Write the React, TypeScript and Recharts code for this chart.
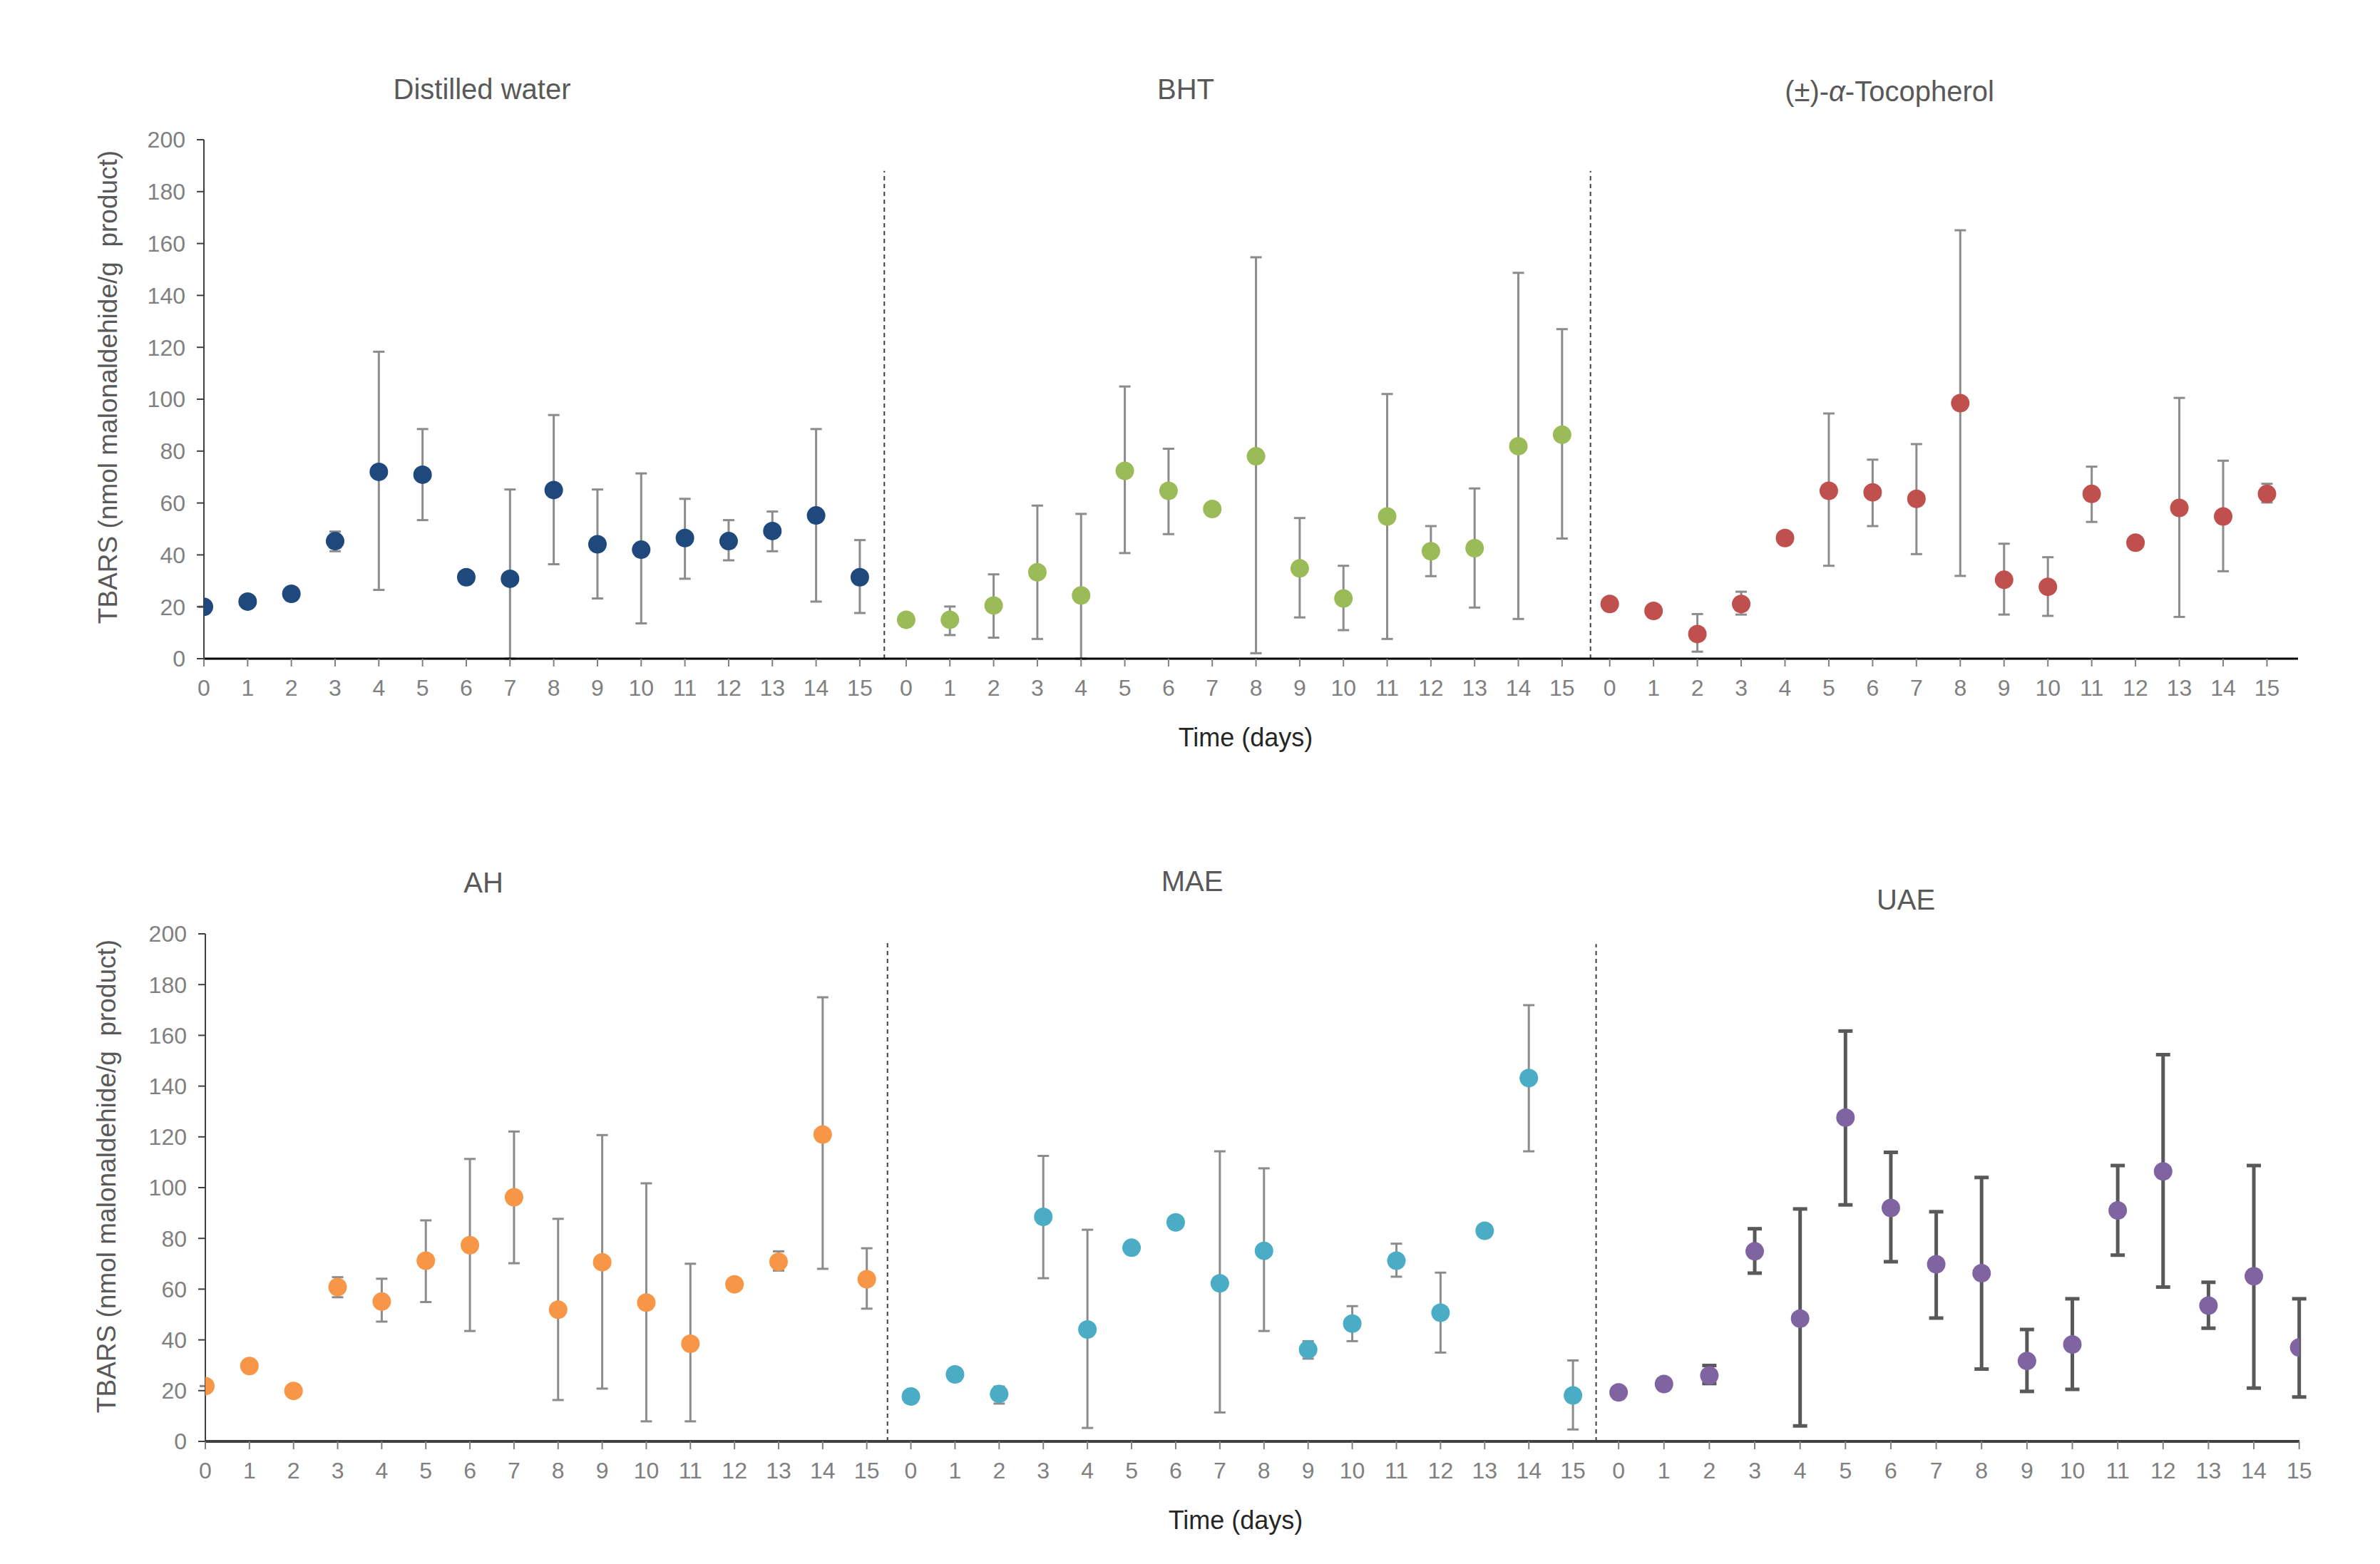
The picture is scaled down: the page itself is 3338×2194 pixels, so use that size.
import { ScatterChart, Scatter, XAxis, YAxis, ErrorBar, ReferenceLine } from "recharts";

const DAYS = ["0", "1", "2", "3", "4", "5", "6", "7", "8", "9", "10", "11", "12", "13", "14", "15"];
const Y_TICKS = [0, 20, 40, 60, 80, 100, 120, 140, 160, 180, 200];

// mean TBARS and the top / bottom of each error bar
const waterMean = [20, 22, 25, 45.3, 72, 70.9, 31.4, 30.8, 65, 44.1, 42, 46.5, 45.3, 49.2, 55.2, 31.4];
const waterHigh = [20, 22, 25, 49, 118.3, 88.5, 31.4, 65.2, 93.9, 65.2, 71.4, 61.6, 53.4, 56.7, 88.5, 45.7];
const waterLow = [20, 22, 25, 41.4, 26.5, 53.4, 31.4, 0, 36.4, 23.2, 13.6, 30.8, 37.9, 41.4, 22, 17.6];

const bhtMean = [15, 15, 20.5, 33.3, 24.4, 72.4, 64.7, 57.7, 78, 34.8, 23.2, 54.8, 41.4, 42.6, 81.9, 86.3];
const bhtHigh = [15, 20.1, 32.5, 59, 55.8, 104.9, 80.9, 59, 154.7, 54.2, 35.8, 102, 51.1, 65.6, 148.7, 127];
const bhtLow = [15, 9.1, 8.1, 7.6, 0, 40.7, 48, 56.5, 2.1, 15.9, 11, 7.6, 31.8, 19.7, 15.3, 46.3];

const tocMean = [21.1, 18.4, 9.5, 21.1, 46.5, 64.7, 64.1, 61.6, 98.5, 30.4, 27.7, 63.5, 44.7, 58.1, 54.8, 63.5];
const tocHigh = [21.1, 18.4, 17.2, 25.8, 46.5, 94.5, 76.7, 82.7, 165.1, 44.3, 39.1, 74, 44.7, 100.5, 76.3, 67.4];
const tocLow = [21.1, 18.4, 2.7, 17, 46.5, 35.8, 51.1, 40.3, 31.9, 17, 16.5, 52.7, 44.7, 16.1, 33.7, 60.2];

const ahMean = [21.8, 29.7, 19.9, 60.8, 55.1, 71.2, 77.3, 96.2, 51.9, 70.6, 54.7, 38.5, 61.9, 70.8, 120.9, 63.9];
const ahHigh = [21.8, 29.7, 19.9, 64.7, 64.1, 87.1, 111.3, 122.1, 87.7, 120.7, 101.7, 70, 61.9, 74.9, 175, 76.1];
const ahLow = [21.8, 29.7, 19.9, 56.8, 47.2, 54.9, 43.5, 70.2, 16.3, 20.8, 7.9, 7.9, 61.9, 67.3, 68, 52.3];

const maeMean = [17.7, 26.4, 18.7, 88.5, 44.1, 76.3, 86.3, 62.3, 75.1, 36.2, 46.4, 71.2, 50.7, 83, 143.2, 18.1];
const maeHigh = [17.7, 26.4, 21.6, 112.5, 83.4, 76.3, 86.3, 114.3, 107.6, 39.5, 53.3, 77.9, 66.5, 83, 171.9, 31.9];
const maeLow = [17.7, 26.4, 14.9, 64.3, 5.3, 76.3, 86.3, 11.4, 43.5, 32.6, 39.5, 64.9, 35, 83, 114.3, 4.7];

const uaeMean = [19.3, 22.6, 26, 74.9, 48.4, 127.6, 92, 69.8, 66.3, 31.7, 38.2, 91, 106.4, 53.5, 65.1, 37];
const uaeHigh = [19.3, 22.6, 29.9, 83.8, 91.6, 161.7, 113.9, 90.5, 104, 44.1, 56.2, 108.7, 152.4, 62.7, 108.7, 56.2];
const uaeLow = [19.3, 22.6, 22.8, 66.3, 6.1, 93.2, 70.8, 48.6, 28.5, 19.7, 20.5, 73.4, 60.8, 44.6, 21, 17.5];

const FONT = '"Liberation Sans", Arial, sans-serif';

// each sub-panel sits at its own offset along the shared x axis (the source was pasted together)
function build(mean: number[], high: number[], low: number[], offset: number, step: number) {
  return mean.map((v, i) => ({ x: offset + i * step, y: v, err: [v - low[i], high[i] - v] }));
}

function tickPositions(groups: { offset: number; step: number }[]) {
  const out: number[] = [];
  groups.forEach((g) => DAYS.forEach((_, i) => out.push(g.offset + i * g.step)));
  return out;
}

function dot(color: string) {
  return (p: any) => <circle cx={p.cx} cy={p.cy} r={13} fill={color} />;
}

function Text({ x, y, children, size = 40, color = "#595959" }: any) {
  return (
    <div
      style={{
        position: "absolute",
        left: x,
        top: y,
        transform: "translate(-50%, -50%)",
        whiteSpace: "pre",
        fontFamily: FONT,
        fontSize: size,
        color,
      }}
    >
      {children}
    </div>
  );
}

function YLabel({ x, y }: any) {
  return (
    <div
      style={{
        position: "absolute",
        left: x,
        top: y,
        transform: "translate(-50%, -50%) rotate(-90deg)",
        whiteSpace: "pre",
        fontFamily: FONT,
        fontSize: 37,
        color: "#595959",
      }}
    >
      {"TBARS (nmol malonaldehide/g  product)"}
    </div>
  );
}

interface Series {
  mean: number[];
  high: number[];
  low: number[];
  offset: number;
  step: number;
  color: string;
  bar: string;
  barWidth: number;
  cap: number;
}

interface PanelProps {
  top: number;
  height: number;
  marginTop: number;
  marginBottom: number;
  left: number;
  right: number;
  xMax: number;
  dashes: { x: number; top: number }[];
  axisColor: string;
  axisWidth: number;
  series: Series[];
}

function Panel(p: PanelProps) {
  const ticks = tickPositions(p.series);
  return (
    <div style={{ position: "absolute", left: 0, top: p.top }}>
      <ScatterChart
        width={3338}
        height={p.height}
        margin={{ top: p.marginTop, right: p.right, bottom: p.marginBottom, left: p.left - 100 }}
      >
        <XAxis
          type="number"
          dataKey="x"
          domain={[0, p.xMax]}
          ticks={ticks}
          interval={0}
          allowDataOverflow
          height={60}
          tickSize={11}
          tickMargin={18}
          tickFormatter={(_v: number, i: number) => DAYS[i % 16]}
          tick={{ fill: "#808080", fontSize: 32, fontFamily: FONT }}
          axisLine={{ stroke: p.axisColor, strokeWidth: p.axisWidth }}
          tickLine={{ stroke: "#808080", strokeWidth: 2 }}
        />
        <YAxis
          type="number"
          dataKey="y"
          domain={[0, 200]}
          ticks={Y_TICKS}
          allowDataOverflow
          width={100}
          tickSize={10}
          tickMargin={16}
          tick={{ fill: "#808080", fontSize: 32, fontFamily: FONT }}
          axisLine={{ stroke: "#404040", strokeWidth: 2 }}
          tickLine={{ stroke: "#404040", strokeWidth: 2 }}
        />
        {p.dashes.map((d, i) => (
          <ReferenceLine
            key={i}
            segment={[{ x: d.x, y: 0 }, { x: d.x, y: d.top }]}
            stroke="#404040"
            strokeWidth={2}
            strokeDasharray="6 5"
          />
        ))}
        {p.series.map((s, i) => (
          <Scatter
            key={i}
            data={build(s.mean, s.high, s.low, s.offset, s.step)}
            isAnimationActive={false}
            shape={dot(s.color)}
          >
            <ErrorBar dataKey="err" direction="y" width={s.cap} stroke={s.bar} strokeWidth={s.barWidth} />
          </Scatter>
        ))}
      </ScatterChart>
    </div>
  );
}

const GREY = "#8c8c8c";

export default function App() {
  return (
    <div style={{ position: "absolute", left: 0, top: 0, width: 3338, height: 2194, background: "#fff", overflow: "hidden" }}>
      <Panel
        top={0}
        height={1100}
        marginTop={196}
        marginBottom={116}
        left={286}
        right={115}
        xMax={47.89}
        dashes={[{ x: 15.56, top: 188 }, { x: 31.71, top: 188 }]}
        axisColor="#000"
        axisWidth={3}
        series={[
          { mean: waterMean, high: waterHigh, low: waterLow, offset: 0, step: 1, color: "#1F497D", bar: GREY, barWidth: 3, cap: 8 },
          { mean: bhtMean, high: bhtHigh, low: bhtLow, offset: 16.06, step: 1, color: "#9BBB59", bar: GREY, barWidth: 3, cap: 8 },
          { mean: tocMean, high: tocHigh, low: tocLow, offset: 32.15, step: 1.002, color: "#C0504D", bar: GREY, barWidth: 3, cap: 8 },
        ]}
      />
      <Panel
        top={1100}
        height={1094}
        marginTop={210}
        marginBottom={112}
        left={288}
        right={113}
        xMax={47.49}
        dashes={[{ x: 15.47, top: 197 }, { x: 31.54, top: 196 }]}
        axisColor="#404040"
        axisWidth={4}
        series={[
          { mean: ahMean, high: ahHigh, low: ahLow, offset: 0, step: 1, color: "#F79646", bar: GREY, barWidth: 3, cap: 8 },
          { mean: maeMean, high: maeHigh, low: maeLow, offset: 16.0, step: 1.001, color: "#4BACC6", bar: GREY, barWidth: 3, cap: 8 },
          { mean: uaeMean, high: uaeHigh, low: uaeLow, offset: 32.05, step: 1.029, color: "#8064A2", bar: "#595959", barWidth: 5, cap: 10 },
        ]}
      />
      <Text x={676} y={125}>Distilled water</Text>
      <Text x={1663} y={125}>BHT</Text>
      <Text x={2650} y={128}>
        (±)-<i>α</i>-Tocopherol
      </Text>
      <Text x={1747} y={1035} size={36} color="#262626">Time (days)</Text>
      <Text x={678} y={1238}>AH</Text>
      <Text x={1672} y={1236}>MAE</Text>
      <Text x={2673} y={1262}>UAE</Text>
      <Text x={1733} y={2133} size={36} color="#262626">Time (days)</Text>
      <YLabel x={152} y={543} />
      <YLabel x={150} y={1650} />
    </div>
  );
}
